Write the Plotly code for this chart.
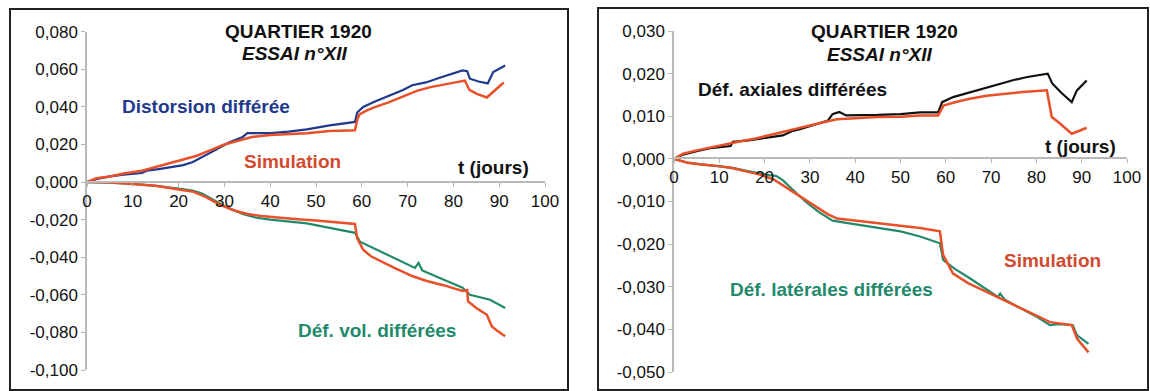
import plotly.graph_objects as go

W, H = 1150, 391

# ---------------- Left chart data ----------------
t_dist = [0, 2, 5, 8, 12, 13, 16, 19, 21, 23, 25, 28, 31, 34, 35, 37, 40, 44, 48, 53, 58.5,
          59, 60.3, 63, 66, 69, 71, 74, 77, 80, 82, 83, 83.6, 85.5, 87.5, 88.7, 91.3]
v_dist = [0, .0015, .003, .004, .0048, .006, .007, .008, .009, .0105, .013, .017, .021, .024, .026,
          .026, .026, .0268, .028, .0302, .032,
          .037, .040, .043, .046, .049, .0515, .053, .0555, .058, .0594, .059, .055, .0535, .0525,
          .0585, .062]

t_sim_dist = [0, 2, 5, 8, 12, 15, 18, 21, 24, 27, 30, 33, 36, 40, 44, 48, 53, 58.5,
              59, 59.5, 61, 63, 66, 69, 72, 75, 78, 82.5, 83.5, 85, 87.3, 88, 89.5, 91]
v_sim_dist = [0, .002, .003, .0045, .006, .008, .010, .012, .014, .017, .020, .022, .024, .025,
              .0255, .026, .0272, .0276,
              .033, .036, .038, .040, .0425, .0455, .0485, .0505, .052, .054, .049, .047, .045,
              .0465, .050, .053]

t_vol = [0, 5, 10, 15, 20, 23, 25, 28, 31, 34, 37, 40, 44, 48, 53, 58.5, 59.6, 62, 65, 68,
         71.6, 72.4, 73.2, 76, 79, 82, 83.6, 86, 88, 91.3]
v_vol = [0, -.0003, -.001, -.002, -.0035, -.0045, -.006, -.010, -.014, -.017, -.019, -.020, -.021,
         -.022, -.0244, -.027, -.0317, -.0345, -.038, -.0415, -.0457, -.043, -.047, -.050, -.053,
         -.0562, -.060, -.0612, -.0626, -.067]

t_sim_vol = [0, 5, 10, 15, 20, 23, 26, 29, 32, 35, 38, 42, 46, 50, 53, 58.5, 59, 60.3, 62, 64, 67,
             71, 74, 78, 82, 83, 83.2, 85, 87.3, 88.4, 89.5, 91.3]
v_sim_vol = [0, -.0003, -.001, -.002, -.004, -.005, -.008, -.012, -.015, -.017, -.018, -.019,
             -.0198, -.0205, -.021, -.0223, -.030, -.036, -.0395, -.042, -.0455, -.050, -.0525,
             -.055, -.058, -.0575, -.0635, -.067, -.0706, -.0768, -.079, -.082]

# ---------------- Right chart data ----------------
t_ax = [0, 2, 5, 8, 12.5, 13, 16, 19, 21, 24, 26, 28, 31, 34, 35, 36.5, 38, 41, 45, 50, 54.3,
        58.3, 59.2, 61.6, 65, 68, 72, 75, 78, 81.9, 82.5, 83.5, 85.5, 87.8, 88.9, 91.1]
v_ax = [0, .001, .0018, .0025, .003, .004, .0043, .0047, .005, .0055, .0065, .007, .008, .009,
        .0105, .011, .0102, .0102, .0103, .0105, .0109, .0109, .0133, .0145, .0155, .0165, .0177,
        .0185, .0192, .020, .020, .0177, .0155, .0133, .016, .0184]

t_sim_ax = [0, 2, 5, 8, 12, 15, 18, 21, 24, 27, 30, 33, 36, 40, 45, 50, 54.3, 58.3, 59.5, 62,
            65.3, 69, 73, 77, 82.3, 83.4, 85.2, 87.8, 89.5, 91.1]
v_sim_ax = [0, .0012, .002, .0027, .0035, .0042, .0048, .0055, .0063, .0071, .0079, .0086, .0093,
            .0096, .0098, .0099, .0102, .0102, .0125, .0133, .0141, .0148, .0153, .0157, .0161,
            .0098, .0083, .0059, .0066, .0073]

t_lat = [0, 3, 6, 10, 13, 16, 19, 21, 22.5, 24, 26, 29, 32, 35, 38, 41, 45, 50, 54.3, 58.7, 59.4,
         62, 65.3, 68, 71.5, 72, 73, 76.4, 80, 83, 85, 88, 89, 91.5]
v_lat = [0, -.0009, -.0013, -.0017, -.0021, -.0028, -.0035, -.0038, -.004, -.005, -.007, -.010,
         -.0125, -.0145, -.0150, -.0155, -.016, -.017, -.0182, -.0198, -.0237, -.0258, -.028,
         -.030, -.0324, -.0316, -.033, -.035, -.037, -.039, -.0388, -.039, -.0414, -.0434]

t_sim_lat = [0, 3, 6, 10, 13, 16, 19, 22, 25, 28, 31, 34, 36, 40, 45, 50, 54.3, 58.7, 59.4, 61.6,
             65, 69, 73, 76.4, 80, 83, 87.8, 89, 91.5]
v_sim_lat = [0, -.0009, -.0013, -.0017, -.0022, -.0029, -.0037, -.0048, -.0068, -.009, -.011,
             -.013, -.014, -.0145, -.0152, -.0158, -.0162, -.017, -.0225, -.0269, -.0292, -.0312,
             -.0332, -.035, -.0368, -.0383, -.039, -.0422, -.0454]

x_ticks = [0, 10, 20, 30, 40, 50, 60, 70, 80, 90, 100]
y_ticks_left = [0.08, 0.06, 0.04, 0.02, 0.0, -0.02, -0.04, -0.06, -0.08, -0.10]
y_ticks_right = [0.03, 0.02, 0.01, 0.0, -0.01, -0.02, -0.03, -0.04, -0.05]


def fmt(v):
    return f"{v:.3f}".replace(".", ",")


BLUE = "#1f3a8c"
RED = "#e8502a"
GREEN = "#23896b"
BLACK = "#111111"
FONT = "Liberation Sans, Arial, sans-serif"


def px(x):
    return x / W


def py(y):
    return 1 - y / H


fig = go.Figure()


def line(t, v, color, xa, ya, width=2.2):
    fig.add_trace(go.Scatter(x=t, y=v, mode="lines", xaxis=xa, yaxis=ya,
                             line=dict(color=color, width=width), showlegend=False,
                             hoverinfo="skip"))


line(t_dist, v_dist, BLUE, "x", "y")
line(t_vol, v_vol, GREEN, "x", "y")
line(t_sim_dist, v_sim_dist, RED, "x", "y", 2.5)
line(t_sim_vol, v_sim_vol, RED, "x", "y", 2.5)

line(t_ax, v_ax, BLACK, "x2", "y2")
line(t_lat, v_lat, GREEN, "x2", "y2")
line(t_sim_ax, v_sim_ax, RED, "x2", "y2", 2.5)
line(t_sim_lat, v_sim_lat, RED, "x2", "y2", 2.5)

axis_common = dict(showgrid=False, zeroline=False, showline=True, linecolor="#b8b8b8",
                   linewidth=1.5, ticks="outside", tickcolor="#b8b8b8", ticklen=4,
                   automargin=False,
                   tickfont=dict(family=FONT, size=17, color="#111"))

fig.update_layout(
    width=W, height=H, margin=dict(l=0, r=0, t=0, b=0),
    paper_bgcolor="white", plot_bgcolor="white",
    xaxis=dict(domain=[px(87), px(545)], range=[0, 100], tickvals=x_ticks,
               ticktext=[str(v) for v in x_ticks],
               anchor="free", position=py(182), **axis_common),
    yaxis=dict(domain=[py(370), py(31.7)], range=[-0.10, 0.08], tickvals=y_ticks_left,
               ticktext=[fmt(v) for v in y_ticks_left], anchor="x", **axis_common),
    xaxis2=dict(domain=[px(674), px(1127)], range=[0, 100], tickvals=x_ticks,
                ticktext=[str(v) for v in x_ticks],
                anchor="free", position=py(158), **axis_common),
    yaxis2=dict(domain=[py(372), py(31)], range=[-0.05, 0.03], tickvals=y_ticks_right,
                ticktext=[fmt(v) for v in y_ticks_right], anchor="x2", **axis_common),
)

# panel frames
fig.add_shape(type="rect", xref="paper", yref="paper", x0=px(10), x1=px(568), y0=py(390), y1=py(9),
              line=dict(color="#222", width=2), layer="below")
fig.add_shape(type="rect", xref="paper", yref="paper", x0=px(598), x1=px(1148), y0=py(390), y1=py(8),
              line=dict(color="#222", width=2), layer="below")


def label(text, x, y, color, size=19, bold=True, italic=False):
    t = text
    if italic:
        t = "<i>" + t + "</i>"
    if bold:
        t = "<b>" + t + "</b>"
    fig.add_annotation(text=t, xref="paper", yref="paper", x=px(x), y=py(y),
                       xanchor="center", yanchor="middle", showarrow=False,
                       font=dict(family=FONT, size=size, color=color))


label("QUARTIER 1920", 298, 32, "#111", size=19)
label("ESSAI n°XII", 294, 54, "#111", italic=True)
label("Distorsion différée", 206, 107, BLUE)
label("Simulation", 292, 161, "#d24a30")
label("t (jours)", 493, 167, "#111")
label("Déf. vol. différées", 377, 330, GREEN)

label("QUARTIER 1920", 884, 32, "#111", size=19)
label("ESSAI n°XII", 879, 55, "#111", italic=True)
label("Déf. axiales différées", 792, 89, "#111")
label("t (jours)", 1080, 146, "#111")
label("Simulation", 1052, 260, "#d24a30")
label("Déf. latérales différées", 831, 289, GREEN)

fig.write_html("out.html", config={"displayModeBar": False},
               post_script="document.body.style.margin='0px';document.body.style.overflow='hidden';")
